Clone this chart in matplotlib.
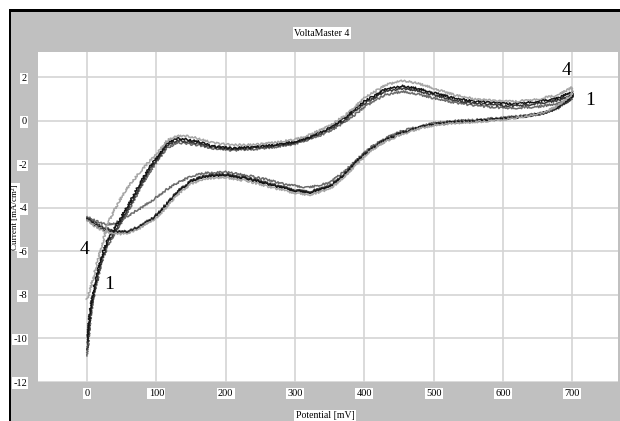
import matplotlib
matplotlib.use("Agg")
from matplotlib import pyplot as plt
from matplotlib.patches import Rectangle

plt.rcParams["axes.unicode_minus"] = False
plt.rcParams["font.family"] = "Liberation Serif"

# potential grid (mV) of the anodic (lower) and cathodic (upper) branches
e_fwd = [0, 10, 20, 30, 40, 50, 60, 75, 90, 100, 115, 130, 150, 170, 200,
         230, 260, 290, 320, 350, 370, 390, 410, 430, 455, 480, 500, 530,
         560, 600, 630, 660, 680, 700]
e_rev = [700, 680, 650, 620, 600, 560, 530, 500, 475, 455, 430, 400, 385,
         370, 345, 320, 300, 270, 240, 210, 180, 160, 145, 130, 115, 100,
         90, 75, 60, 45, 30, 20, 10, 5, 0]

# current density (mA/cm2), cycles 1..4
fwd_1 = [-4.4, -4.55, -4.7, -4.75, -4.7, -4.55, -4.35, -4.05, -3.75, -3.5,
         -3.15, -2.85, -2.55, -2.4, -2.35, -2.5, -2.7, -2.95, -3.05, -2.85,
         -2.35, -1.75, -1.2, -0.8, -0.45, -0.25, -0.1, 0.0, 0.05, 0.15, 0.25,
         0.4, 0.65, 1.0]
fwd_2 = [-4.45, -4.65, -4.85, -4.95, -5.05, -5.1, -5.05, -4.85, -4.55, -4.3,
         -3.8, -3.25, -2.75, -2.5, -2.45, -2.6, -2.85, -3.1, -3.25, -3.0,
         -2.45, -1.8, -1.25, -0.85, -0.5, -0.3, -0.15, -0.05, 0.0, 0.1, 0.2,
         0.35, 0.6, 1.05]
fwd_3 = [-4.5, -4.75, -4.95, -5.05, -5.1, -5.15, -5.1, -4.9, -4.6, -4.35,
         -3.85, -3.3, -2.8, -2.55, -2.5, -2.65, -2.9, -3.15, -3.3, -3.05,
         -2.5, -1.85, -1.3, -0.9, -0.55, -0.3, -0.15, -0.05, 0.0, 0.1, 0.2,
         0.4, 0.65, 1.15]
fwd_4 = [-4.55, -4.8, -5.0, -5.1, -5.15, -5.2, -5.15, -4.95, -4.65, -4.45,
         -3.95, -3.4, -2.9, -2.65, -2.6, -2.75, -3.0, -3.25, -3.4, -3.15,
         -2.6, -1.95, -1.35, -0.95, -0.6, -0.35, -0.2, -0.1, -0.05, 0.05, 0.2,
         0.4, 0.7, 1.25]

rev_1 = [1.0, 0.8, 0.65, 0.6, 0.6, 0.7, 0.85, 1.05, 1.25, 1.35, 1.2, 0.65,
         0.25, -0.1, -0.55, -0.85, -1.05, -1.2, -1.3, -1.35, -1.25, -1.1,
         -1.05, -1.0, -1.25, -1.9, -2.35, -3.2, -4.1, -4.9, -5.7, -6.6, -8.0,
         -9.0, -10.8]
rev_2 = [1.2, 0.95, 0.8, 0.7, 0.7, 0.8, 0.95, 1.2, 1.4, 1.5, 1.35, 0.8, 0.4,
         0.0, -0.45, -0.8, -1.0, -1.15, -1.25, -1.3, -1.2, -1.05, -0.95, -0.9,
         -1.15, -1.8, -2.25, -3.1, -4.0, -4.8, -5.6, -6.5, -7.9, -8.8, -10.5]
rev_3 = [1.35, 1.05, 0.9, 0.8, 0.8, 0.9, 1.05, 1.3, 1.5, 1.6, 1.45, 0.9, 0.5,
         0.1, -0.4, -0.75, -0.95, -1.1, -1.2, -1.25, -1.15, -0.95, -0.85,
         -0.8, -1.05, -1.7, -2.15, -2.95, -3.85, -4.65, -5.45, -6.3, -7.7,
         -8.6, -10.1]
rev_4 = [1.55, 1.2, 1.0, 0.9, 0.9, 1.0, 1.2, 1.5, 1.75, 1.85, 1.65, 1.05,
         0.6, 0.2, -0.3, -0.65, -0.85, -1.0, -1.1, -1.1, -1.0, -0.8, -0.7,
         -0.7, -0.9, -1.55, -1.85, -2.4, -3.0, -3.75, -4.7, -5.9, -7.1, -7.7,
         -8.2]

cycles = [(fwd_1, rev_1), (fwd_2, rev_2), (fwd_3, rev_3), (fwd_4, rev_4)]
shades = ['#6a6a6a', '#3a3a3a', '#141414', '#a5a5a5']

x_ticks = [0, 100, 200, 300, 400, 500, 600, 700]
y_ticks = [2, 0, -2, -4, -6, -8, -10, -12]

W, H = 620, 421
fig = plt.figure(figsize=(W / 100, H / 100), dpi=100)
fig.patch.set_facecolor('#c0c0c0')

# white margins and black frame of the screenshot
fig.patches.append(Rectangle((0, 1 - 10 / H), 1, 10 / H, transform=fig.transFigure,
                             facecolor='white', edgecolor='none'))
fig.patches.append(Rectangle((0, 0), 9 / W, 1, transform=fig.transFigure,
                             facecolor='white', edgecolor='none'))
fig.patches.append(Rectangle((9 / W, 1 - 11.5 / H), 1, 2 / H, transform=fig.transFigure,
                             facecolor='black', edgecolor='none'))
fig.patches.append(Rectangle((9 / W, 0), 2.5 / W, 1 - 9.5 / H, transform=fig.transFigure,
                             facecolor='black', edgecolor='none'))

ax = fig.add_axes([38 / W, 1 - 382 / H, 580 / W, 330 / H])
ax.set_facecolor('white')
for s in ax.spines.values():
    s.set_visible(False)
ax.set_xlim(-70.7, 766)
ax.set_ylim(-12, 3.17)
ax.set_xticks(x_ticks)
ax.set_yticks(y_ticks)
ax.grid(True, color='#d4d4d4', linewidth=1.2)
ax.set_axisbelow(True)
ax.tick_params(length=0, labelsize=7.5)
ax.tick_params(axis='x', pad=5)
ax.tick_params(axis='y', pad=8)
for lab in ax.get_xticklabels() + ax.get_yticklabels():
    lab.set_bbox(dict(facecolor='white', edgecolor='none', pad=1))

for (fwd, rev), c in zip(cycles, shades):
    ln, = ax.plot(e_fwd + e_rev, fwd + rev, color=c, linewidth=1.1)
    ln.set_sketch_params(scale=1.0, length=1.5, randomness=3)

ax.text(691, 2.34, '4', fontsize=14, ha='center', va='center')
ax.text(726, 0.96, '1', fontsize=14, ha='center', va='center')
ax.text(-3, -5.9, '4', fontsize=14, ha='center', va='center')
ax.text(32, -7.5, '1', fontsize=14, ha='center', va='center')

box = dict(facecolor='white', edgecolor='none', pad=1.2)
fig.text(322 / W, 1 - 33 / H, 'VoltaMaster 4', fontsize=7, ha='center',
         va='center', bbox=box)
fig.text(325 / W, 1 - 416 / H, 'Potential [mV]', fontsize=7, ha='center',
         va='center', bbox=box)
fig.text(15.5 / W, 1 - 217 / H, 'Current [mA/cm\u00b2]', fontsize=6.5,
         ha='center', va='center', rotation=90,
         bbox=dict(facecolor='white', edgecolor='none', pad=0.6))

fig.savefig('out.png', dpi=100, facecolor=fig.get_facecolor())
